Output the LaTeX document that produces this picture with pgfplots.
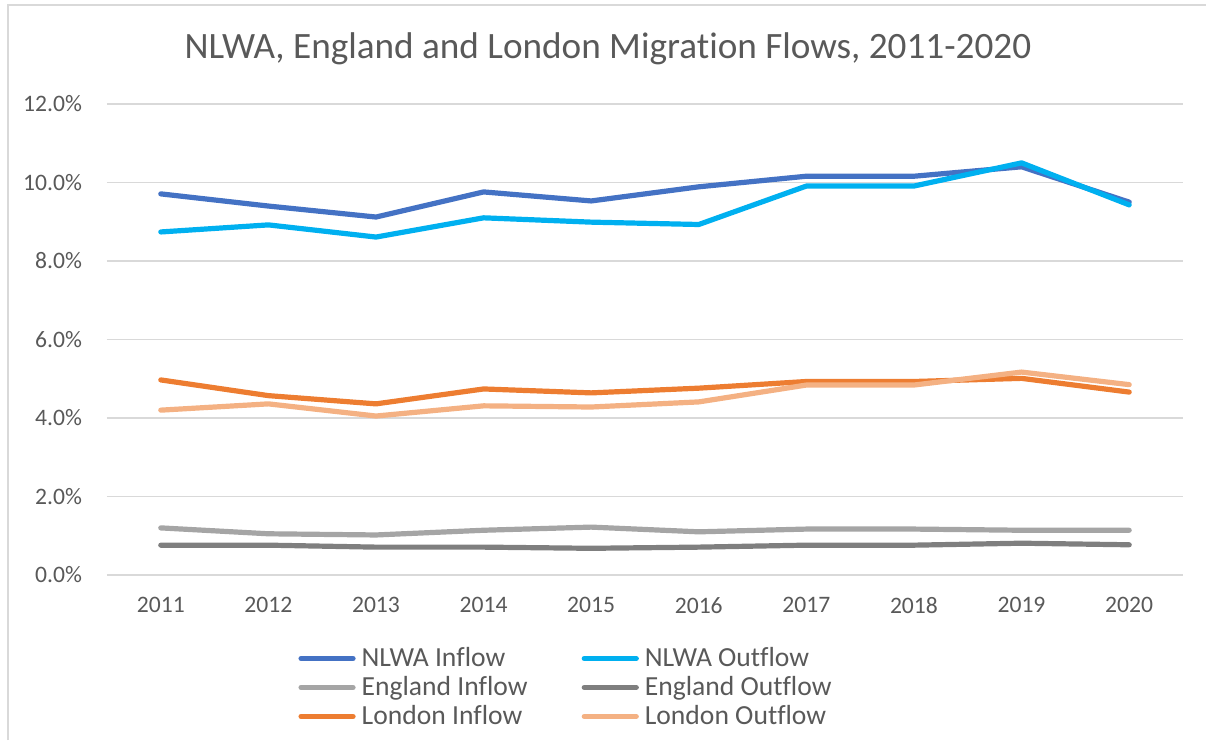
\documentclass[border=0pt]{standalone}
\usepackage{fontspec}
\setmainfont[Ligatures=NoCommon]{Carlito}
\usepackage{pgfplots}
\pgfplotsset{compat=1.18}
\definecolor{nlwain}{HTML}{4472C4}
\definecolor{nlwaout}{HTML}{00B0F0}
\definecolor{engin}{HTML}{A5A5A5}
\definecolor{engout}{HTML}{7F7F7F}
\definecolor{lonin}{HTML}{ED7D31}
\definecolor{lonout}{HTML}{F4B183}
\definecolor{gridc}{HTML}{D9D9D9}
\definecolor{txt}{HTML}{595959}
\begin{document}
\begin{tikzpicture}
\useasboundingbox (0,0) rectangle (603pt,370pt);
\draw[gridc, line width=0.8pt] (4pt,0) -- (4pt,367.5pt) -- (603pt,367.5pt);
\begin{axis}[
  at={(53.5pt,82.5pt)}, anchor=south west,
  scale only axis, width=538pt, height=235.5pt,
  xmin=2010.5, xmax=2020.5, ymin=0, ymax=12,
  xtick={2011,...,2020}, ytick={0,2,...,12},
  axis line style={draw=none},
  tick style={draw=none},
  ymajorgrids, grid style={gridc, line width=0.8pt},
  /pgf/number format/assume math mode=true,
  xticklabel style={/pgf/number format/1000 sep={}, font=\fontsize{11.8}{14}\selectfont, text=txt, yshift=-7.5pt},
  yticklabel={\pgfmathprintnumber[fixed,fixed zerofill,precision=1]{\tick}\%},
  yticklabel style={font=\fontsize{11.8}{14}\selectfont, text=txt, xshift=-9pt},
  title={NLWA, England and London Migration Flows, 2011-2020},
  title style={at={(axis description cs:0.4656,1.091)}, anchor=center, font=\fontsize{18.6}{22}\selectfont, text=txt},
  legend columns=2,
  legend cell align=left,
  legend style={at={(axis description cs:0.172,-0.138)}, anchor=north west, draw=none, fill=none,
    font=\fontsize{13.8}{16}\selectfont, text=txt, row sep=0.4pt,
    /tikz/every even column/.append style={column sep=27pt},
    /tikz/every odd column/.append style={column sep=3pt},
    nodes={inner xsep=0pt, inner ysep=1.5pt}},
  legend image code/.code={\draw[#1] (0pt,0pt) -- (26pt,0pt);},
  every axis plot/.append style={line width=2.6pt, line cap=round, line join=round},
]
\addplot[nlwain] coordinates {(2011,9.71) (2012,9.40) (2013,9.12) (2014,9.76) (2015,9.53) (2016,9.89) (2017,10.16) (2018,10.16) (2019,10.40) (2020,9.50)};
\addlegendentry{NLWA Inflow}
\addplot[nlwaout] coordinates {(2011,8.74) (2012,8.92) (2013,8.61) (2014,9.10) (2015,8.99) (2016,8.93) (2017,9.91) (2018,9.91) (2019,10.50) (2020,9.43)};
\addlegendentry{NLWA Outflow}
\addplot[engin] coordinates {(2011,1.20) (2012,1.05) (2013,1.02) (2014,1.14) (2015,1.22) (2016,1.10) (2017,1.17) (2018,1.17) (2019,1.14) (2020,1.14)};
\addlegendentry{England Inflow}
\addplot[engout] coordinates {(2011,0.76) (2012,0.76) (2013,0.71) (2014,0.71) (2015,0.68) (2016,0.71) (2017,0.76) (2018,0.76) (2019,0.81) (2020,0.77)};
\addlegendentry{England Outflow}
\addplot[lonin] coordinates {(2011,4.97) (2012,4.57) (2013,4.36) (2014,4.74) (2015,4.64) (2016,4.76) (2017,4.93) (2018,4.93) (2019,5.01) (2020,4.66)};
\addlegendentry{London Inflow}
\addplot[lonout] coordinates {(2011,4.20) (2012,4.36) (2013,4.05) (2014,4.31) (2015,4.28) (2016,4.41) (2017,4.84) (2018,4.84) (2019,5.17) (2020,4.85)};
\addlegendentry{London Outflow}
\end{axis}
\end{tikzpicture}
\end{document}
